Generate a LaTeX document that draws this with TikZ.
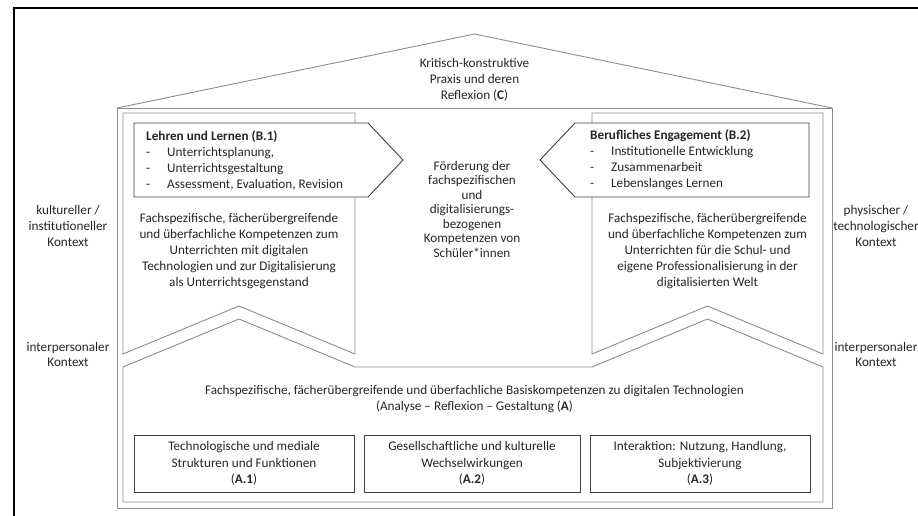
\documentclass[tikz,border=0pt]{standalone}
\usepackage{fontspec}
\setmainfont{Carlito}
\usetikzlibrary{
    positioning,   % Relative positioning
    calc           % Coordinate calculations
}
\definecolor{wallgray}{HTML}{8C8C8C}
\definecolor{boxgray}{HTML}{3F3F3F}
\definecolor{inkgray}{HTML}{262626}

\begin{document}
\begin{tikzpicture}[x=1pt,y=-1pt,
    wall/.style={draw=wallgray,line width=0.9pt,line join=miter},
    pennant/.style={draw=boxgray,fill=white,line width=0.9pt},
    label/.style={align=center,inner sep=0pt,text=inkgray,
        font=\fontsize{13.2}{16}\selectfont},
    listtext/.style={align=left,inner sep=0pt,text=inkgray,anchor=west,
        font=\fontsize{13.2}{16}\selectfont},
    subbox/.style={draw=boxgray,line width=0.9pt,align=center,text=inkgray,
        font=\fontsize{13.2}{16.5}\selectfont,minimum height=57pt,inner sep=0pt}]
    \useasboundingbox (0,0) rectangle (918,515);
    % frame
    \draw[line width=2pt] (14,520) -- (14,8) -- (925,8);
    % house: roof and walls
    \draw[wall] (117,108) -- (474.5,34) -- (832,108);
    \draw[wall] (117,108) rectangle (832,508);
    % columns B.1 and B.2
    \draw[wall] (123,113) -- (355,113) -- (355,354) -- (239,306) -- (123,354) -- cycle;
    \draw[wall] (592,113) -- (823,113) -- (823,354) -- (707.5,306) -- (592,354) -- cycle;
    % base A
    \draw[wall] (123,367) -- (239,319) -- (355,367) -- (592,367) -- (707.5,319)
        -- (823,367) -- (823,502) -- (123,502) -- cycle;
    % pennants
    \draw[pennant] (134,123) -- (368,123) -- (403,160) -- (368,197) -- (134,197) -- cycle;
    \draw[pennant] (575,123) -- (809,123) -- (809,197) -- (575,197) -- (540,160) -- cycle;

    \node[label] (roof) at (474.5,80) {Kritisch-konstruktive\\Praxis und deren\\Reflexion (\textbf{C})};

    \node[listtext] (b1list) at (146,160) {\textbf{Lehren und Lernen (B.1)}\\
        \makebox[21pt][l]{-}Unterrichtsplanung,\\
        \makebox[21pt][l]{-}Unterrichtsgestaltung\\
        \makebox[21pt][l]{-}Assessment, Evaluation, Revision};
    \node[listtext] (b2list) at (590,160) {\textbf{Berufliches Engagement (B.2)}\\
        \makebox[21pt][l]{-}Institutionelle Entwicklung\\
        \makebox[21pt][l]{-}Zusammenarbeit\\
        \makebox[21pt][l]{-}Lebenslanges Lernen};

    \node[label] (b1text) at (239,251) {Fachspezifische, fächerübergreifende\\und überfachliche Kompetenzen zum\\Unterrichten mit digitalen\\Technologien und zur Digitalisierung\\als Unterrichtsgegenstand};
    \node[label] (b2text) at (707.5,251) {Fachspezifische, fächerübergreifende\\und überfachliche Kompetenzen zum\\Unterrichten für die Schul- und\\eigene Professionalisierung in der\\digitalisierten Welt};

    \node[label,font=\fontsize{13.2}{14.5}\selectfont] (goal) at (472,209) {Förderung der\\fachspezifischen\\und\\digitalisierungs-\\bezogenen\\Kompetenzen von\\Schüler*innen};

    % context labels
    \node[label] (ctxl) at (68,226) {kultureller /\\institutioneller\\Kontext};
    \node[label] (ctxr) at (876,226) {physischer /\\technologischer\\Kontext};
    \node[label,font=\fontsize{13.2}{15}\selectfont] (interl) at (68,354) {interpersonaler\\Kontext};
    \node[label,font=\fontsize{13.2}{15}\selectfont] (interr) at (876,354) {interpersonaler\\Kontext};

    \node[label] (base) at (474.5,399) {Fachspezifische, fächerübergreifende und überfachliche Basiskompetenzen zu digitalen Technologien\\(Analyse -- Reflexion -- Gestaltung (\textbf{A})};

    \node[subbox,minimum width=220pt] (a1) at (244,463.5) {Technologische und mediale\\Strukturen und Funktionen\\(\textbf{A.1})};
    \node[subbox,minimum width=216pt] (a2) at (472,463.5) {Gesellschaftliche und kulturelle\\Wechselwirkungen\\(\textbf{A.2})};
    \node[subbox,minimum width=220pt] (a3) at (700,463.5) {Interaktion: Nutzung, Handlung,\\Subjektivierung\\(\textbf{A.3})};
\end{tikzpicture}
\end{document}
